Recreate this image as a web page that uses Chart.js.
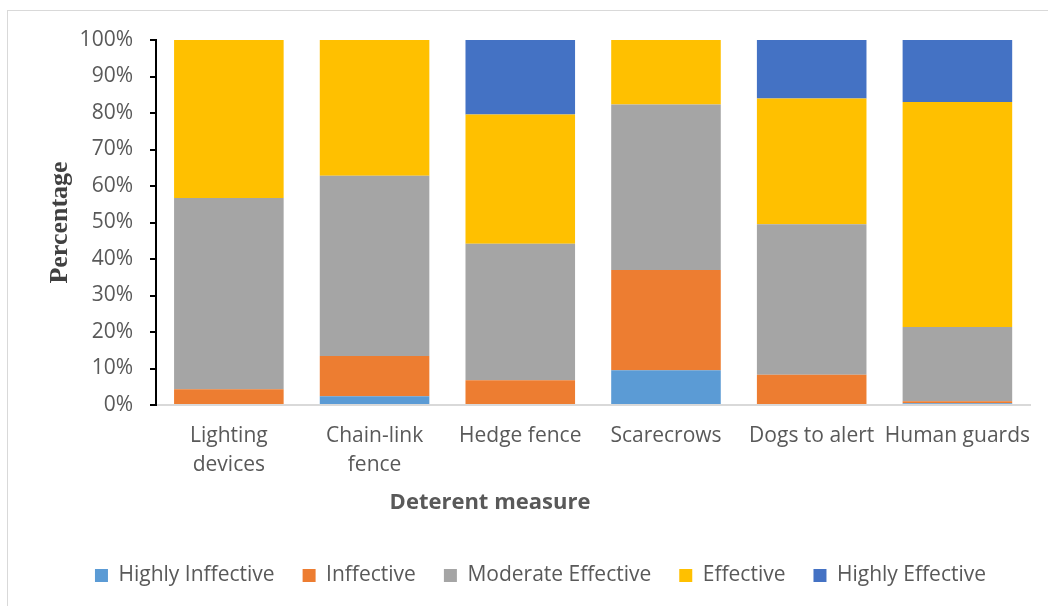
<!DOCTYPE html>
<html>
<head>
<meta charset="utf-8">
<script src="https://cdn.jsdelivr.net/npm/chart.js@4"></script>
<style>
  html, body { margin: 0; padding: 0; background: #ffffff; }
  #wrap { position: relative; width: 1048px; height: 606px; }
</style>
</head>
<body>
<div id="wrap"><canvas id="chart" width="1048" height="606"></canvas></div>
<script>
// Deterent measures rated by respondents (percent of answers per rating)
const categories = [
  ['Lighting', 'devices'],
  ['Chain-link', 'fence'],
  'Hedge fence',
  'Scarecrows',
  'Dogs to alert',
  'Human guards'
];
const seriesNames = ['Highly Inffective', 'Inffective', 'Moderate Effective', 'Effective', 'Highly Effective'];
const highlyInffective = [0, 2.4, 0, 9.5, 0, 0.5];
const inffective = [4.3, 11.0, 6.8, 27.5, 8.3, 0.5];
const moderateEffective = [52.4, 49.4, 37.4, 45.3, 41.2, 20.4];
const effective = [43.3, 37.2, 35.4, 17.7, 34.5, 61.6];
const highlyEffective = [0, 0, 20.4, 0, 16.0, 17.0];
const seriesColors = ['#5B9BD5', '#ED7D31', '#A5A5A5', '#FFC000', '#4472C4'];

const yTitle = 'Percentage';
const xTitle = 'Deterent measure';

const seriesValues = [highlyInffective, inffective, moderateEffective, effective, highlyEffective];

const datasets = seriesNames.map((name, i) => ({
  label: name,
  data: seriesValues[i],
  backgroundColor: seriesColors[i],
  borderWidth: 0,
  categoryPercentage: 1,
  barPercentage: 0.752
}));

// Light frame around the whole chart, and the horizontal axis title
const framePlugin = {
  id: 'frame',
  beforeDraw(chart) {
    const ctx = chart.ctx;
    ctx.save();
    ctx.fillStyle = '#ffffff';
    ctx.fillRect(0, 0, chart.width, chart.height);
    ctx.strokeStyle = '#d9d9d9';
    ctx.lineWidth = 1;
    ctx.strokeRect(7.5, 10.5, 1200, 800);
    ctx.restore();
  },
  afterDraw(chart) {
    const ctx = chart.ctx;
    ctx.save();
    ctx.font = 'bold 22px "Open Sans"';
    ctx.fillStyle = '#595959';
    ctx.textAlign = 'center';
    ctx.textBaseline = 'middle';
    ctx.fillText(xTitle, 490, 503);
    ctx.restore();
  }
};

new Chart(document.getElementById('chart'), {
  type: 'bar',
  data: { labels: categories, datasets },
  plugins: [framePlugin],
  options: {
    responsive: false,
    animation: false,
    layout: { padding: { left: 45, right: 12, top: 40, bottom: 10 } },
    plugins: {
      tooltip: { enabled: false },
      legend: {
        position: 'bottom',
        labels: {
          boxWidth: 13,
          boxHeight: 13,
          padding: 28,
          color: '#595959',
          font: { family: 'Open Sans', size: 21 }
        }
      }
    },
    scales: {
      x: {
        stacked: true,
        grid: { display: false, drawTicks: false },
        border: { display: true, color: '#d9d9d9', width: 2 },
        ticks: {
          color: '#595959',
          padding: 17,
          maxRotation: 0,
          autoSkip: false,
          font: { family: 'Open Sans', size: 21, lineHeight: 1.35 }
        },
        afterFit(scale) { scale.height = 132; }
      },
      y: {
        stacked: true,
        min: 0,
        max: 100,
        grid: {
          drawOnChartArea: false,
          drawTicks: true,
          tickLength: 6,
          color: '#000000',
          lineWidth: 2
        },
        border: { display: true, color: '#000000', width: 2 },
        ticks: {
          stepSize: 10,
          padding: 17,
          color: '#595959',
          font: { family: 'Open Sans', size: 21 },
          callback: (v) => v + '%'
        },
        title: {
          display: true,
          text: yTitle,
          color: '#404040',
          padding: { top: 0, bottom: 0 },
          font: { family: 'Liberation Serif', size: 26, weight: 'bold', lineHeight: 1.2 }
        },
        afterFit(scale) { scale.width = 111; }
      }
    }
  }
});
</script>
</body>
</html>
